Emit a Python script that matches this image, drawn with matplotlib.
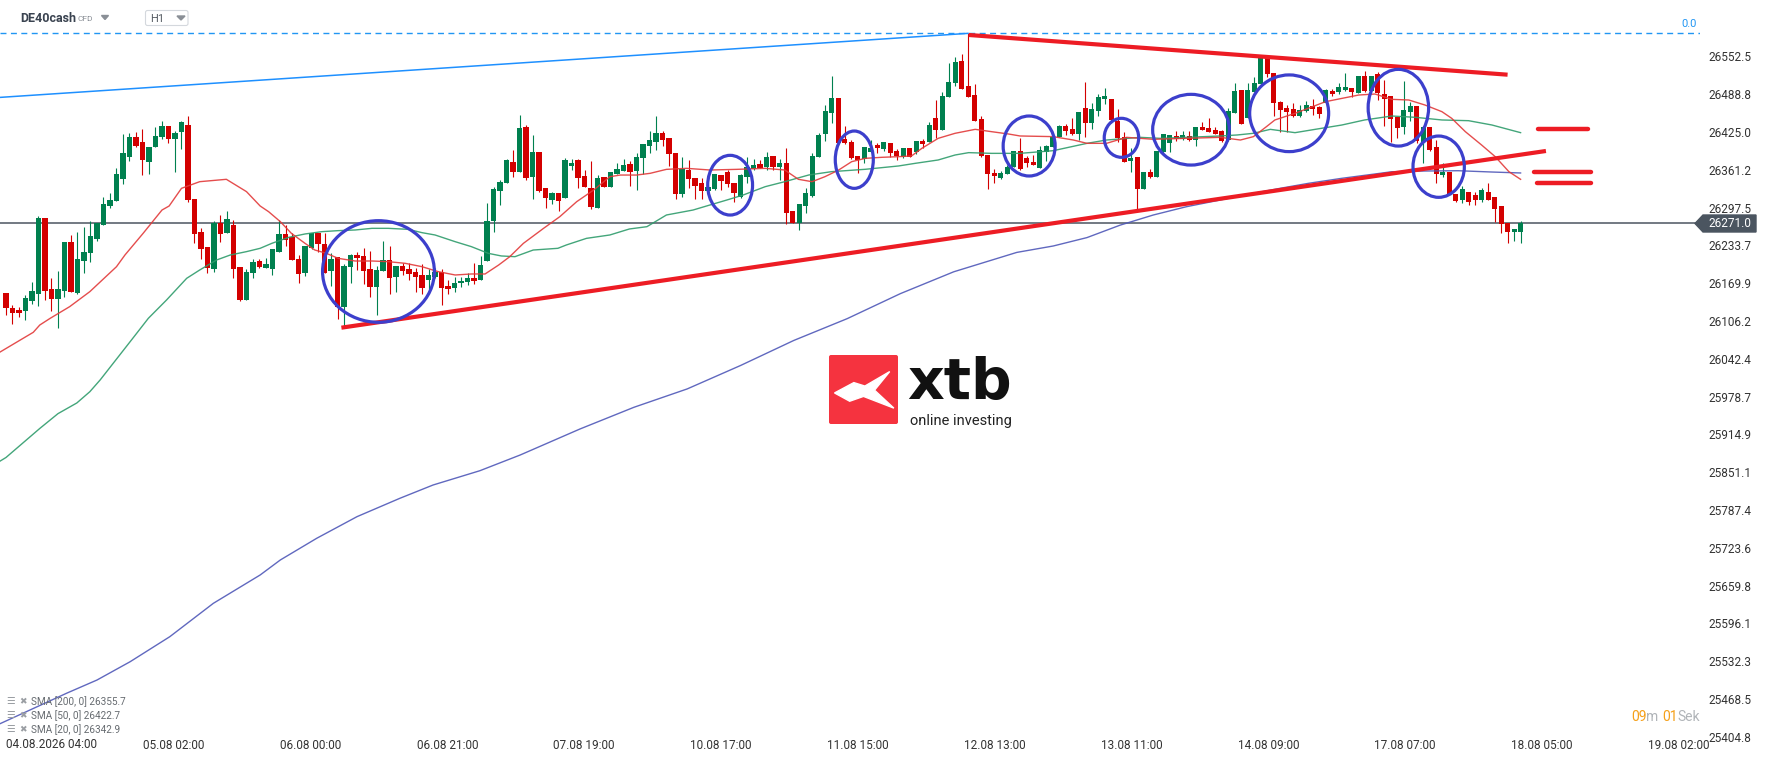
import matplotlib
matplotlib.use("Agg")
import matplotlib.pyplot as plt
from matplotlib.patches import Ellipse, Polygon, FancyBboxPatch
import numpy as np

plt.rcParams['font.family'] = ['Roboto', 'DejaVu Sans']

# hourly candles DE40cash, 04.08 00:00 .. 18.08 02:00
opens = [26154.1, 26128.2, 26124.9, 26123.7, 26140.6, 26152.4, 26280.6, 26160.3, 26143.4, 26156.9,
         26239.6, 26153.0, 26208.1, 26221.6, 26245.2, 26268.8, 26300.3, 26309.3, 26345.8, 26383.5,
         26417.2, 26408.2, 26374.5, 26399.3, 26417.2, 26435.2, 26412.7, 26425.1, 26436.9, 26312.1,
         26256.4, 26231.7, 26194.6, 26271.0, 26255.3, 26268.2, 26197.4, 26141.7, 26187.8, 26207.5,
         26196.3, 26194.0, 26223.3, 26253.1, 26247.4, 26210.9, 26187.3, 26230.0, 26255.3, 26236.2,
         26190.6, 26214.3, 26130.5, 26197.9, 26217.6, 26215.9, 26194.0, 26164.2, 26191.2, 26209.2,
         26181.1, 26199.1, 26194.0, 26189.0, 26183.9, 26176.0, 26181.1, 26189.0, 26165.3, 26162.5,
         26169.8, 26172.6, 26179.4, 26174.9, 26208.1, 26274.4, 26326.2, 26339.6, 26374.5, 26358.2,
         26433.5, 26349.7, 26391.3, 26330.1, 26310.4, 26321.6, 26314.3, 26368.3, 26377.8, 26350.9,
         26330.1, 26297.4, 26348.6, 26332.9, 26354.8, 26359.9, 26371.1, 26359.3, 26381.8, 26402.0,
         26408.2, 26424.0, 26414.4, 26389.1, 26321.1, 26361.0, 26347.5, 26339.0, 26326.1, 26328.4,
         26352.5, 26357.6, 26338.5, 26316.0, 26349.7, 26362.1, 26371.1, 26365.5, 26384.7, 26365.5,
         26373.4, 26291.9, 26272.2, 26300.9, 26317.7, 26383.5, 26421.2, 26457.7, 26482.5, 26412.8,
         26408.8, 26384.7, 26379.6, 26390.8, 26402.6, 26396.5, 26406.0, 26393.1, 26383.5, 26397.6,
         26392.0, 26410.0, 26408.8, 26448.2, 26428.5, 26483.6, 26508.4, 26544.9, 26502.7, 26488.1,
         26446.5, 26386.3, 26356.5, 26348.1, 26353.7, 26365.5, 26393.1, 26381.8, 26374.5, 26365.0,
         26392.0, 26400.4, 26417.3, 26435.3, 26430.2, 26421.2, 26465.1, 26439.8, 26461.1, 26480.8,
         26480.2, 26444.3, 26416.1, 26376.8, 26383.5, 26328.4, 26357.7, 26349.8, 26391.4, 26407.1,
         26418.4, 26412.8, 26418.4, 26411.6, 26433.6, 26431.9, 26428.5, 26426.8, 26411.6, 26456.6,
         26496.0, 26449.3, 26493.2, 26506.1, 26551.1, 26525.2, 26476.3, 26465.0, 26463.3, 26452.1,
         26460.5, 26469.0, 26466.7, 26473.5, 26494.3, 26492.0, 26496.0, 26498.8, 26491.5, 26519.6,
         26494.8, 26522.9, 26489.2, 26485.8, 26451.0, 26433.0, 26459.4, 26469.0, 26408.8, 26433.0,
         26400.4, 26352.6, 26357.6, 26321.1, 26310.4, 26323.9, 26318.8, 26310.4, 26323.3, 26314.9,
         26300.3, 26271.0, 26257.0, 26257.0]
highs = [26154.1, 26133.3, 26129.3, 26150.2, 26172.6, 26283.4, 26280.6, 26178.8, 26190.6, 26239.6,
         26251.4, 26256.4, 26265.4, 26275.5, 26271.0, 26314.9, 26322.8, 26364.4, 26421.7, 26423.4,
         26425.1, 26430.2, 26399.8, 26434.1, 26444.2, 26435.2, 26426.8, 26444.2, 26452.7, 26312.1,
         26263.7, 26231.7, 26275.5, 26285.1, 26291.9, 26276.7, 26197.4, 26194.0, 26211.4, 26210.3,
         26212.0, 26227.8, 26276.7, 26268.2, 26255.3, 26218.2, 26232.8, 26255.3, 26255.3, 26255.3,
         26220.4, 26214.3, 26202.4, 26218.8, 26223.3, 26228.9, 26224.4, 26199.1, 26241.2, 26232.8,
         26199.1, 26203.6, 26203.6, 26195.1, 26202.4, 26194.6, 26195.1, 26193.5, 26175.5, 26181.1,
         26181.1, 26186.7, 26204.7, 26216.5, 26305.9, 26331.8, 26344.1, 26379.0, 26394.8, 26453.8,
         26436.9, 26420.0, 26391.3, 26330.1, 26323.9, 26321.6, 26380.7, 26379.0, 26379.0, 26361.0,
         26376.7, 26352.5, 26348.6, 26357.0, 26372.2, 26379.5, 26376.2, 26389.1, 26404.3, 26427.3,
         26452.6, 26426.8, 26414.4, 26389.1, 26382.3, 26377.8, 26347.5, 26346.9, 26335.1, 26353.7,
         26352.5, 26361.0, 26338.5, 26353.7, 26383.5, 26379.5, 26377.8, 26391.9, 26384.7, 26379.0,
         26397.6, 26291.9, 26303.1, 26330.1, 26390.3, 26422.9, 26470.7, 26520.2, 26482.5, 26435.3,
         26411.6, 26384.7, 26399.8, 26411.6, 26407.1, 26407.7, 26406.0, 26395.9, 26397.6, 26397.6,
         26410.0, 26412.8, 26442.6, 26479.1, 26493.2, 26541.0, 26552.2, 26556.2, 26591.6, 26505.5,
         26452.1, 26386.3, 26362.2, 26359.3, 26368.9, 26393.1, 26415.6, 26384.7, 26386.3, 26401.5,
         26403.2, 26421.8, 26436.9, 26438.6, 26448.2, 26458.3, 26510.0, 26474.6, 26489.2, 26499.9,
         26480.2, 26463.9, 26425.1, 26397.6, 26383.5, 26357.7, 26362.2, 26393.1, 26421.2, 26419.5,
         26426.8, 26426.8, 26426.8, 26434.1, 26441.4, 26448.8, 26434.1, 26427.9, 26465.1, 26507.2,
         26496.0, 26507.2, 26518.5, 26551.1, 26551.1, 26525.2, 26477.4, 26470.7, 26473.5, 26470.7,
         26477.4, 26480.2, 26469.0, 26497.1, 26497.1, 26508.3, 26525.2, 26498.8, 26519.6, 26528.0,
         26519.6, 26526.9, 26512.8, 26485.8, 26451.0, 26511.1, 26475.7, 26469.0, 26433.0, 26433.0,
         26411.6, 26373.4, 26357.6, 26321.1, 26334.0, 26323.9, 26323.3, 26330.1, 26339.6, 26316.0,
         26300.3, 26271.0, 26261.5, 26275.0]
lows = [26116.4, 26100.7, 26113.6, 26108.0, 26134.4, 26132.2, 26141.7, 26123.7, 26095.0, 26146.2,
        26154.7, 26151.8, 26187.8, 26206.4, 26241.8, 26268.8, 26296.4, 26309.3, 26337.4, 26376.8,
        26399.8, 26353.1, 26354.3, 26399.3, 26413.9, 26406.0, 26358.2, 26397.0, 26307.6, 26238.4,
        26210.3, 26187.8, 26189.5, 26239.0, 26255.3, 26179.4, 26139.5, 26141.7, 26179.4, 26195.1,
        26195.1, 26183.9, 26223.3, 26233.4, 26209.2, 26171.0, 26182.8, 26228.3, 26222.1, 26187.8,
        26165.9, 26109.7, 26097.9, 26171.0, 26192.3, 26168.1, 26147.3, 26116.4, 26191.2, 26151.8,
        26155.8, 26183.9, 26175.5, 26154.7, 26152.4, 26160.8, 26178.3, 26133.3, 26151.3, 26155.8,
        26164.2, 26167.0, 26169.3, 26174.9, 26208.1, 26257.0, 26301.4, 26339.6, 26348.6, 26358.2,
        26344.1, 26312.6, 26324.4, 26297.4, 26303.6, 26292.4, 26314.3, 26361.0, 26330.1, 26332.9,
        26295.8, 26297.4, 26331.7, 26332.9, 26354.8, 26359.9, 26334.0, 26326.7, 26354.2, 26389.1,
        26394.7, 26401.5, 26367.7, 26312.6, 26314.9, 26331.2, 26312.6, 26312.1, 26323.9, 26327.2,
        26327.2, 26331.7, 26307.6, 26313.2, 26338.5, 26360.4, 26364.4, 26361.0, 26361.0, 26344.2,
        26269.4, 26272.2, 26259.8, 26287.9, 26316.0, 26383.5, 26410.5, 26440.9, 26406.0, 26404.9,
        26379.0, 26355.4, 26372.3, 26390.8, 26389.1, 26393.6, 26382.4, 26377.9, 26381.8, 26382.4,
        26388.0, 26397.6, 26408.8, 26414.5, 26428.5, 26483.6, 26502.7, 26498.2, 26484.7, 26444.3,
        26383.0, 26329.0, 26338.5, 26345.9, 26353.7, 26365.5, 26361.0, 26366.7, 26369.5, 26363.8,
        26376.8, 26399.3, 26416.1, 26419.5, 26419.5, 26411.6, 26417.3, 26430.2, 26452.7, 26472.4,
        26440.9, 26407.7, 26375.1, 26358.2, 26293.6, 26328.4, 26347.0, 26349.8, 26390.3, 26391.4,
        26410.0, 26411.6, 26410.5, 26401.5, 26429.1, 26425.1, 26422.3, 26408.8, 26409.4, 26456.6,
        26438.6, 26449.3, 26493.2, 26506.1, 26518.5, 26452.1, 26425.7, 26425.7, 26451.0, 26451.0,
        26459.4, 26453.8, 26449.3, 26473.5, 26486.4, 26489.2, 26494.8, 26483.6, 26491.5, 26493.1,
        26493.1, 26479.1, 26435.2, 26408.8, 26415.5, 26421.7, 26443.7, 26407.1, 26372.2, 26393.6,
        26339.6, 26348.6, 26318.8, 26307.6, 26304.8, 26302.5, 26302.5, 26306.5, 26310.4, 26273.8,
        26254.2, 26238.4, 26241.8, 26237.3]
closes = [26128.8, 26120.4, 26120.4, 26145.1, 26156.9, 26280.6, 26157.5, 26143.4, 26160.3, 26239.6,
          26155.2, 26210.9, 26222.7, 26249.7, 26271.0, 26303.7, 26310.4, 26354.3, 26390.3, 26417.2,
          26401.5, 26377.9, 26399.8, 26418.4, 26435.2, 26412.7, 26424.0, 26442.0, 26311.0, 26253.6,
          26228.3, 26195.1, 26271.0, 26253.6, 26278.9, 26194.6, 26141.7, 26189.0, 26205.8, 26197.9,
          26203.0, 26227.8, 26253.1, 26242.9, 26209.2, 26186.1, 26232.8, 26254.2, 26236.7, 26187.8,
          26210.9, 26130.5, 26199.6, 26217.6, 26213.1, 26191.2, 26163.1, 26192.3, 26208.6, 26179.4,
          26199.1, 26191.2, 26186.1, 26181.1, 26162.0, 26183.9, 26189.0, 26162.5, 26160.8, 26170.4,
          26174.3, 26179.4, 26174.3, 26200.8, 26274.4, 26329.0, 26340.8, 26377.9, 26358.2, 26432.4,
          26347.5, 26391.3, 26325.6, 26313.2, 26321.6, 26309.2, 26377.8, 26372.2, 26348.0, 26332.9,
          26298.6, 26347.5, 26332.9, 26357.0, 26362.1, 26369.4, 26357.0, 26382.9, 26404.3, 26411.6,
          26424.0, 26411.6, 26387.4, 26321.1, 26362.7, 26345.2, 26334.0, 26326.1, 26332.9, 26353.7,
          26342.4, 26336.8, 26321.6, 26352.5, 26365.5, 26368.8, 26364.4, 26382.9, 26366.7, 26373.4,
          26289.1, 26272.2, 26303.1, 26322.8, 26384.7, 26420.1, 26460.6, 26482.5, 26407.1, 26406.0,
          26381.8, 26377.9, 26399.8, 26397.6, 26397.6, 26407.7, 26390.3, 26384.7, 26397.6, 26382.4,
          26410.0, 26404.9, 26436.9, 26429.1, 26485.9, 26510.0, 26543.8, 26498.2, 26484.7, 26444.3,
          26384.1, 26354.3, 26351.5, 26356.5, 26366.7, 26393.1, 26362.2, 26372.3, 26369.5, 26394.8,
          26401.5, 26417.3, 26435.3, 26426.8, 26421.2, 26458.3, 26439.8, 26463.4, 26484.7, 26485.9,
          26445.4, 26414.5, 26375.1, 26381.8, 26329.5, 26357.7, 26349.8, 26393.1, 26421.2, 26419.5,
          26412.8, 26419.5, 26411.6, 26433.0, 26429.1, 26425.1, 26422.3, 26410.0, 26460.6, 26494.3,
          26438.6, 26496.0, 26508.4, 26551.1, 26522.4, 26474.6, 26462.2, 26459.4, 26452.1, 26462.2,
          26470.7, 26463.3, 26455.5, 26496.0, 26489.2, 26500.5, 26500.5, 26492.0, 26519.6, 26494.8,
          26519.6, 26490.3, 26480.8, 26447.6, 26432.4, 26462.2, 26469.0, 26409.9, 26433.0, 26394.7,
          26354.3, 26357.6, 26320.5, 26309.3, 26328.4, 26307.6, 26310.4, 26327.3, 26310.4, 26295.8,
          26269.9, 26257.0, 26261.5, 26271.0]

# moving averages (bar index, value)
sma20 = [(-0.9, 26054), (2.2, 26074.2), (4.2, 26087.2), (5.2, 26099.5), (6.8, 26110.8), (9.8, 26130.5),
         (12.9, 26155.8), (17.0, 26197.9), (18.3, 26217.6), (21.1, 26254.2), (24.0, 26293.5),
         (25.1, 26300.3), (27.0, 26330.1), (29.8, 26341.3), (33.9, 26345.3), (37.0, 26324.5),
         (39.1, 26300.3), (40.4, 26290.7), (42.2, 26273.9), (43.9, 26254.2), (46.0, 26237.3),
         (47.5, 26226.1), (49.3, 26220.4), (51.1, 26212.0), (53.7, 26207.5), (56.3, 26207.5),
         (58.8, 26206.4), (61.4, 26203.6), (64.0, 26197.9), (66.5, 26189.5), (69.1, 26183.9),
         (71.6, 26185.6), (73.7, 26185.6), (75.8, 26200.8), (77.5, 26214.8), (79.6, 26237.3),
         (82.7, 26262.6), (85.2, 26282.3), (87.8, 26307.6), (90.4, 26327.2), (92.9, 26349.7),
         (94.5, 26352.5), (97.0, 26352.5), (99.1, 26355.4), (101.6, 26362.1), (104.7, 26363.8),
         (108.3, 26361.0), (112.4, 26362.1), (116.8, 26363.8), (119.8, 26361.0), (121.9, 26345.3),
         (124.0, 26341.3), (126.0, 26349.8), (128.1, 26361.0), (130.1, 26375.1), (132.2, 26380.7),
         (134.7, 26382.4), (137.3, 26383.5), (139.3, 26384.7), (140.9, 26397.6), (143.4, 26414.4),
         (146.0, 26422.9), (149.1, 26429.6), (151.6, 26425.7), (154.2, 26421.8), (156.0, 26418.4),
         (161.1, 26417.3), (164.2, 26411.6), (166.3, 26406.0), (169.3, 26406.0), (172.4, 26416.1),
         (176.5, 26412.8), (181.6, 26414.4), (186.8, 26416.1), (189.9, 26411.6), (191.9, 26417.3),
         (193.9, 26434.1), (195.2, 26445.4), (198.3, 26456.6), (203.0, 26476.3), (208.1, 26487.5),
         (210.6, 26489.2), (213.2, 26480.2), (215.8, 26479.1), (218.3, 26470.6), (220.9, 26459.4),
         (222.4, 26448.2), (224.5, 26425.7), (227.0, 26403.2), (229.1, 26383.5), (231.2, 26358.2),
         (233.0, 26345.3)]
sma50 = [(-0.9, 25870), (0, 25876), (5.2, 25925), (8.0, 25950), (10.9, 25968), (12.9, 25987),
         (14.5, 26007), (19.3, 26074.2), (21.9, 26110.8),
         (24.7, 26141.7), (27.8, 26178.3), (29.8, 26192.3), (32.4, 26209.2), (34.5, 26217.6),
         (37.0, 26223.3), (39.1, 26228.9), (40.9, 26237.3), (43.5, 26247.4), (46.0, 26253.1),
         (48.6, 26257.0), (51.1, 26258.7), (53.7, 26259.8), (56.3, 26262.6), (58.8, 26262.6),
         (61.9, 26260.9), (64.0, 26255.3), (66.0, 26251.4), (69.1, 26240.1), (71.6, 26231.7),
         (74.2, 26220.4), (76.2, 26216.0), (78.3, 26214.8), (81.1, 26226.0), (84.9, 26228.9),
         (86.2, 26234.5), (89.3, 26245.7), (92.9, 26251.4), (95.9, 26261.5), (98.6, 26265.4),
         (101.6, 26285.1), (105.7, 26293.5), (108.3, 26302.0), (110.9, 26310.4), (113.4, 26318.8),
         (116.8, 26332.9), (119.8, 26341.3), (123.5, 26352.6), (127.0, 26358.2), (132.2, 26362.2),
         (137.3, 26367.8), (139.9, 26372.3), (143.4, 26377.9), (146.0, 26386.3), (148.1, 26390.3),
         (151.6, 26389.1), (156.0, 26389.1), (161.1, 26393.6), (166.3, 26406.0), (169.3, 26411.6),
         (174.5, 26416.1), (177.6, 26414.4), (181.6, 26416.1), (186.8, 26418.4), (189.4, 26420.1),
         (191.9, 26422.9), (194.5, 26429.6), (198.3, 26424.0), (201.4, 26429.6), (205.5, 26436.9),
         (209.0, 26445.4), (213.2, 26452.1), (216.8, 26449.9), (220.9, 26445.4), (225.0, 26444.2),
         (228.6, 26436.9), (233.0, 26424.0)]
sma200 = [(-0.9, 25427), (0, 25431.5), (9.3, 25478.2), (14.0, 25500.6), (19.1, 25531.5),
          (25.2, 25573.7), (31.9, 25630.0), (39.1, 25677.8), (42.2, 25703.1), (47.8, 25739.7),
          (54.0, 25776.2), (60.6, 25807.2), (65.7, 25829.6), (72.9, 25853.7), (79.1, 25880.2),
          (88.3, 25924.1), (96.6, 25960.7), (104.8, 25991.7), (113.0, 26031.2), (121.2, 26073.5),
          (129.4, 26110.2), (137.6, 26152.5), (145.8, 26189.3), (155.5, 26222.0), (161.1, 26232.8),
          (166.3, 26247.0), (171.4, 26268.0), (176.5, 26285.1), (181.6, 26299.1), (186.8, 26310.4),
          (191.9, 26321.7), (196.0, 26330.1), (200.4, 26338.6), (205.5, 26347.0), (210.6, 26354.3),
          (213.2, 26358.1), (218.3, 26359.3), (223.4, 26359.8), (228.6, 26357.6), (233.0, 26356.0)]

last_price = 26271.0
fib_zero = 26592.1
support = [(51.6, 26095.0), (236.9, 26393.1)]
resistance = [(148.1, 26588.8), (231.0, 26521.8)]
long_trend = [(-0.92, 26483.5), (148.1, 26591.6)]
levels = [(235.7, 243.3, 26429.7), (235.1, 243.8, 26357.1), (235.5, 243.8, 26339.1)]
# (centre idx, centre price, width in bars, height in points)
circles = [(57.3, 26189.8, 17.2, 171.4), (111.4, 26335.4, 6.9, 100.7), (130.5, 26378.4, 5.85, 96.7),
           (157.4, 26401.5, 8.0, 101.2), (171.6, 26415.3, 5.3, 65.8), (182.3, 26429.0, 11.8, 119.3),
           (197.4, 26456.7, 12.15, 129.4), (214.2, 26466.1, 9.3, 129.4), (220.4, 26366.6, 7.9, 103.4)]

yticks = [26552.5, 26488.8, 26425.0, 26361.2, 26297.5, 26233.7, 26169.9, 26106.2, 26042.4, 25978.7,
          25914.9, 25851.1, 25787.4, 25723.6, 25659.8, 25596.1, 25532.3, 25468.5, 25404.8]
date_labels = ['05.08 02:00', '06.08 00:00', '06.08 21:00', '07.08 19:00', '10.08 17:00',
               '11.08 15:00', '12.08 13:00', '13.08 11:00', '14.08 09:00', '17.08 07:00',
               '18.08 05:00', '19.08 02:00']
sma_legend = ['SMA [200, 0] 26355.7', 'SMA [50, 0] 26422.7', 'SMA [20, 0] 26342.9']

W, H = 1768, 761
fig = plt.figure(figsize=(W / 100, H / 100), dpi=100)
fig.patch.set_facecolor('white')
ax = fig.add_axes([0, 23 / H, 1700 / W, 738 / H])
ax.set_xlim(-0.92, 260.6)
ax.set_ylim(25402.8, 26647.8)
for s in ax.spines.values():
    s.set_visible(False)

o = np.array(opens)
c = np.array(closes)
hi = np.array(highs)
lo = np.array(lows)
idx = np.arange(len(o))
cols = np.where(c >= o, '#00804f', '#d30000')

ax.axhline(last_price, color='#4b5560', lw=1.1, zorder=1)
ax.axhline(fib_zero, color='#2196f3', lw=1, dashes=(4.3, 3.2), zorder=1)

ax.vlines(idx, lo, hi, colors=cols, lw=0.8, zorder=2)
ax.bar(idx, np.maximum(np.abs(c - o), 1.2), bottom=np.minimum(o, c), width=0.78,
       color=cols, zorder=2)

for pts, col in [(sma200, '#4f58b8'), (sma50, '#2f9c6c'), (sma20, '#e23a3a')]:
    xs, ys = zip(*pts)
    ax.plot(xs, ys, color=col, lw=1.0, alpha=0.9, zorder=3)

for line, col, lw in [(support, '#ed1c24', 3), (resistance, '#ed1c24', 3), (long_trend, '#1e90ff', 1.1)]:
    xs, ys = zip(*line)
    ax.plot(xs, ys, color=col, lw=lw, solid_capstyle='butt', zorder=4)
for x0, x1, y in levels:
    ax.plot([x0, x1], [y, y], color='#ed1c24', lw=3.2, solid_capstyle='round', zorder=4)
for cx, cy, w, h in circles:
    ax.add_patch(Ellipse((cx, cy), w, h, fill=False, ec='#3c3fcc', lw=2.3, zorder=5))

ax.yaxis.tick_right()
ax.set_yticks(yticks)
ax.set_yticklabels([f'{v:.1f}' for v in yticks])
ax.tick_params(axis='y', length=0, pad=5.8, labelsize=8.5, labelcolor='#333333')
ax.set_xticks([])

date_pos = 25.8 + 21.05 * np.arange(len(date_labels))
for p, lab in zip(date_pos, date_labels):
    ax.text(p, -0.0095, lab, transform=ax.get_xaxis_transform(), ha='center', va='center',
            fontsize=8.5, color='#333333', clip_on=False)

# overlay in pixel coordinates for the terminal decorations
ov = fig.add_axes([0, 0, 1, 1], zorder=10)
ov.set_xlim(0, W)
ov.set_ylim(H, 0)
ov.axis('off')
ov.patch.set_alpha(0)

ov.text(5.7, 745, '04.08.2026 04:00', ha='left', va='center', fontsize=8.5, color='#333333')
ov.text(20, 18.5, 'DE40cash', ha='left', va='center', fontsize=9, fontweight='bold', color='#3a4350')
ov.text(77.5, 19, 'CFD', ha='left', va='center', fontsize=6, color='#8a8f96')
ov.add_patch(Polygon([(101.5, 15.5), (108.5, 15.5), (105, 19.5)], color='#8a8f96'))
ov.add_patch(FancyBboxPatch((145.5, 10.5), 42.5, 15, boxstyle='round,pad=0,rounding_size=2',
                            fc='white', ec='#d4d8dd', lw=0.8))
ov.text(150.5, 18.5, 'H1', ha='left', va='center', fontsize=8, color='#555b62')
ov.add_patch(Polygon([(177, 16), (185, 16), (181, 20)], color='#8a8f96'))
ov.text(1697, 24, '0.0', ha='right', va='center', fontsize=8, color='#2196f3')

ov.add_patch(Polygon([(1695, 223.5), (1703, 215), (1756, 215), (1756, 232), (1703, 232)],
                     closed=True, color='#4b5560'))
ov.text(1708, 223.5, f'{last_price:.1f}', ha='left', va='center', fontsize=8.5, color='white')

for k, lab in enumerate(sma_legend):
    yy = 701.5 + 14 * k
    ov.text(6, yy, '\u2630', ha='left', va='center', fontsize=7, color='#9a9ea3', family='DejaVu Sans')
    ov.text(19, yy, '\u2716', ha='left', va='center', fontsize=6.5, color='#9a9ea3', family='DejaVu Sans')
    ov.text(31, yy, lab, ha='left', va='center', fontsize=7.2, color='#666b70')

# candle countdown, pieces placed one after another
renderer = fig.canvas.get_renderer()
x = 1631
for s, col in [('09', '#f5a01a'), ('m ', '#b0b4b8'), ('01', '#f5a01a'), ('Sek', '#b0b4b8')]:
    t = ov.text(x, 717, s, ha='left', va='center', fontsize=10, color=col)
    bb = t.get_window_extent(renderer)
    x += bb.width * W / fig.bbox.width

# xtb logo
ov.add_patch(FancyBboxPatch((829, 355), 69, 69, boxstyle='round,pad=0,rounding_size=2',
                            fc='#f5333f', ec='none'))
mark = [(0.08, 0.55), (0.36, 0.40), (0.52, 0.45), (0.88, 0.24), (0.66, 0.51),
        (0.94, 0.77), (0.50, 0.60), (0.30, 0.67)]
ov.add_patch(Polygon([(829 + 69 * u, 355 + 69 * v) for u, v in mark], closed=True, color='white'))
ov.text(907, 399, 'xtb', ha='left', va='baseline', fontsize=41, fontweight='bold',
        color='#111111', family='DejaVu Sans')
ov.text(910, 413.5, 'online investing', ha='left', va='top', fontsize=10.5, color='#222222')

fig.savefig('out.png', dpi=100, facecolor='white')
